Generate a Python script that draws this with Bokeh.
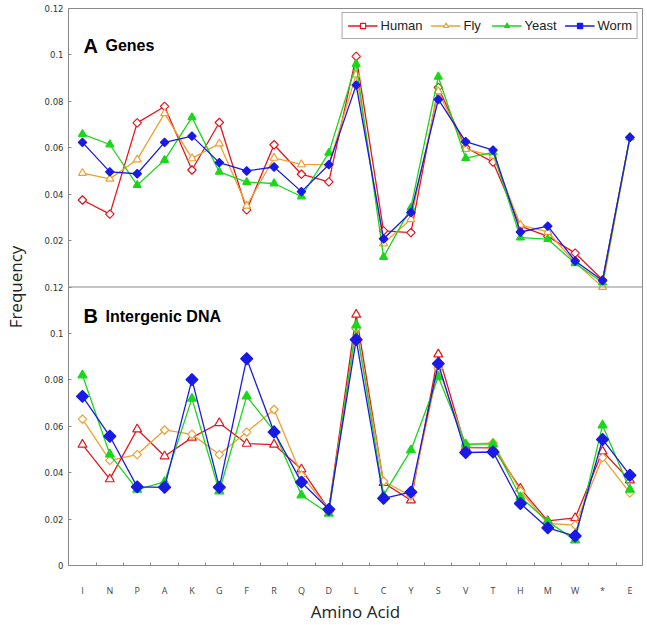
import numpy as np
from bokeh.plotting import figure
from bokeh.models import (Range1d, FixedTicker, CustomJSTickFormatter, Span, Label,
                          Legend, LegendItem)
from bokeh.embed import file_html
from bokeh.resources import INLINE

amino_acids = ["I", "N", "P", "A", "K", "G", "F", "R", "Q", "D", "L",
               "C", "Y", "S", "V", "T", "H", "M", "W", "*", "E"]

# Panel A: Genes
genes_human = [0.0375, 0.0314, 0.0707, 0.0778, 0.0504, 0.0709, 0.0332, 0.0613, 0.0486, 0.0453, 0.0994,
               0.0242, 0.0234, 0.0860, 0.0601, 0.0538, 0.0262, 0.0218, 0.0146, 0.0031, 0.0645]
genes_fly = [0.0491, 0.0466, 0.0549, 0.0748, 0.0554, 0.0618, 0.0350, 0.0556, 0.0528, 0.0527, 0.0915,
             0.0187, 0.0292, 0.0843, 0.0594, 0.0565, 0.0268, 0.0237, 0.0105, 0.0000, 0.0645]
genes_yeast = [0.0659, 0.0614, 0.0439, 0.0547, 0.0731, 0.0496, 0.0452, 0.0446, 0.0390, 0.0578, 0.0961,
               0.0129, 0.0342, 0.0906, 0.0555, 0.0580, 0.0213, 0.0206, 0.0102, 0.0019, 0.0645]
genes_worm = [0.0623, 0.0496, 0.0488, 0.0623, 0.0650, 0.0536, 0.0500, 0.0517, 0.0411, 0.0527, 0.0870,
              0.0208, 0.0321, 0.0808, 0.0626, 0.0590, 0.0237, 0.0262, 0.0112, 0.0028, 0.0645]

# Panel B: Intergenic DNA
inter_human = [0.0521, 0.0372, 0.0587, 0.0471, 0.0551, 0.0614, 0.0525, 0.0521, 0.0415, 0.0242, 0.1081,
               0.0356, 0.0281, 0.0910, 0.0508, 0.0507, 0.0332, 0.0192, 0.0205, 0.0492, 0.0367]
inter_fly = [0.0631, 0.0453, 0.0478, 0.0584, 0.0565, 0.0478, 0.0575, 0.0672, 0.0389, 0.0242, 0.1020,
             0.0363, 0.0300, 0.0850, 0.0522, 0.0528, 0.0321, 0.0181, 0.0174, 0.0465, 0.0313]
inter_yeast = [0.0820, 0.0479, 0.0327, 0.0360, 0.0719, 0.0320, 0.0729, 0.0580, 0.0303, 0.0224, 0.1035,
               0.0303, 0.0497, 0.0812, 0.0522, 0.0524, 0.0295, 0.0190, 0.0109, 0.0604, 0.0327]
inter_worm = [0.0729, 0.0557, 0.0339, 0.0337, 0.0801, 0.0337, 0.0891, 0.0575, 0.0359, 0.0242, 0.0973,
              0.0289, 0.0316, 0.0870, 0.0487, 0.0489, 0.0267, 0.0162, 0.0127, 0.0543, 0.0389]

series_names = ["Human", "Fly", "Yeast", "Worm"]
panel_max = 0.12
y_tick_values = [0, 0.02, 0.04, 0.06, 0.08, 0.1, 0.12]

colors = {"Human": "#e8141c", "Fly": "#f0a030", "Yeast": "#19d719", "Worm": "#1a1ae6"}
AXIS_GRAY = "#8a8a8a"

x = list(range(len(amino_acids)))

p = figure(width=647, height=625, output_backend="svg", toolbar_location=None,
           x_range=Range1d(-0.51, len(amino_acids) - 0.54),
           y_range=Range1d(0, 2 * panel_max),
           min_border_left=68, min_border_right=5, min_border_top=8, min_border_bottom=60)
p.extra_y_ranges = {"top": Range1d(-panel_max, panel_max)}
p.grid.visible = False
p.outline_line_color = AXIS_GRAY
p.outline_line_width = 1
p.background_fill_color = "white"
p.border_fill_color = "white"

# ---- y axis (bottom panel ticks + top panel ticks shifted up one panel) ----
y_ticks = list(y_tick_values) + [panel_max + t for t in y_tick_values if t > 0]
p.yaxis.ticker = FixedTicker(ticks=y_ticks)
p.yaxis.formatter = CustomJSTickFormatter(code="""
    const v = tick > 0.1201 ? tick - 0.12 : tick;
    return String(Math.round(v * 100) / 100);
""")
p.yaxis.axis_line_color = AXIS_GRAY
p.yaxis.major_tick_line_color = AXIS_GRAY
p.yaxis.major_tick_in = 3
p.yaxis.major_tick_out = 0
p.yaxis.minor_tick_line_color = None
p.yaxis.major_label_text_font = "DejaVu Sans"
p.yaxis.major_label_text_font_size = "8.5px"
p.yaxis.major_label_text_color = "#333333"
p.yaxis.major_label_standoff = 5
p.yaxis.axis_label = "Frequency"
p.yaxis.axis_label_text_font = "Open Sans"
p.yaxis.axis_label_text_font_size = "17px"
p.yaxis.axis_label_text_font_style = "normal"
p.yaxis.axis_label_text_color = "#222222"
p.yaxis.axis_label_standoff = 15

# ---- x axis ----
p.xaxis.ticker = FixedTicker(ticks=x, minor_ticks=[i - 0.5 for i in range(len(amino_acids) + 1)])
p.xaxis.major_label_overrides = {i: a for i, a in enumerate(amino_acids)}
p.xaxis.axis_line_color = AXIS_GRAY
p.xaxis.major_tick_in = 0
p.xaxis.major_tick_out = 0
p.xaxis.minor_tick_line_color = AXIS_GRAY
p.xaxis.minor_tick_in = 3
p.xaxis.minor_tick_out = 0
p.xaxis.major_label_text_font = "Open Sans"
p.xaxis.major_label_text_font_size = "9px"
p.xaxis.major_label_text_color = "#444444"
p.xaxis.major_label_standoff = 18
p.xaxis.axis_label = "Amino Acid"
p.xaxis.axis_label_text_font = "Open Sans"
p.xaxis.axis_label_text_font_size = "17px"
p.xaxis.axis_label_text_font_style = "normal"
p.xaxis.axis_label_text_color = "#222222"
p.xaxis.axis_label_standoff = 0

# boundary between panels
p.add_layout(Span(location=panel_max, dimension="width", line_color=AXIS_GRAY, line_width=1))

def add_series(values, color, marker, open_marker, size, range_name):
    kw = {}
    if range_name:
        kw["y_range_name"] = range_name
    ln = p.line(x, values, line_color=color, line_width=1.3, **kw)
    angle = np.pi / 4 if marker == "square" else 0.0
    sc = p.scatter(x, values, marker=marker, size=size, angle=angle,
                   line_color=color, line_width=1.2,
                   fill_color="white" if open_marker else color, **kw)
    return [ln, sc]

# Panel A markers: Human open diamond, Fly open triangle, Yeast filled triangle, Worm filled diamond
top_specs = {"Human": ("square", True, 6), "Fly": ("triangle", True, 8),
             "Yeast": ("triangle", False, 8), "Worm": ("square", False, 6)}
# Panel B markers: Human open triangle, Fly open diamond, Yeast filled triangle, Worm filled diamond
bottom_specs = {"Human": ("triangle", True, 9), "Fly": ("square", True, 6),
                "Yeast": ("triangle", False, 9), "Worm": ("square", False, 8.5)}

genes = {"Human": genes_human, "Fly": genes_fly, "Yeast": genes_yeast, "Worm": genes_worm}
inter = {"Human": inter_human, "Fly": inter_fly, "Yeast": inter_yeast, "Worm": inter_worm}

legend_items = []
for name in series_names:
    m, o, s = bottom_specs[name]
    add_series(inter[name], colors[name], m, o, s, None)
for name in series_names:
    m, o, s = top_specs[name]
    rs = add_series(genes[name], colors[name], m, o, s, "top")
    legend_items.append(LegendItem(label=name, renderers=rs))

legend = Legend(items=legend_items, orientation="horizontal", location="top_right",
                label_text_font="Liberation Sans", label_text_font_size="13px",
                label_text_color="#222222", padding=5, spacing=8, margin=4,
                glyph_width=30, glyph_height=13, label_height=13, label_standoff=3,
                border_line_color="#555555", border_line_width=1,
                background_fill_color="white", background_fill_alpha=1.0)
p.add_layout(legend)

# Panel titles
p.add_layout(Label(x=0, y=0.104, y_range_name="top", x_offset=1, text="A",
                   text_font="Liberation Sans", text_font_style="bold",
                   text_font_size="20px", text_color="black", text_baseline="alphabetic"))
p.add_layout(Label(x=0, y=0.104, y_range_name="top", x_offset=23, text="Genes",
                   text_font="Liberation Sans", text_font_style="bold",
                   text_font_size="16px", text_color="black", text_baseline="alphabetic"))
p.add_layout(Label(x=0, y=0.1073, x_offset=1, text="B",
                   text_font="Liberation Sans", text_font_style="bold",
                   text_font_size="20px", text_color="black", text_baseline="alphabetic"))
p.add_layout(Label(x=0, y=0.1073, x_offset=23, text="Intergenic DNA",
                   text_font="Liberation Sans", text_font_style="bold",
                   text_font_size="16px", text_color="black", text_baseline="alphabetic"))

open("out.html", "w").write(file_html(p, INLINE))
